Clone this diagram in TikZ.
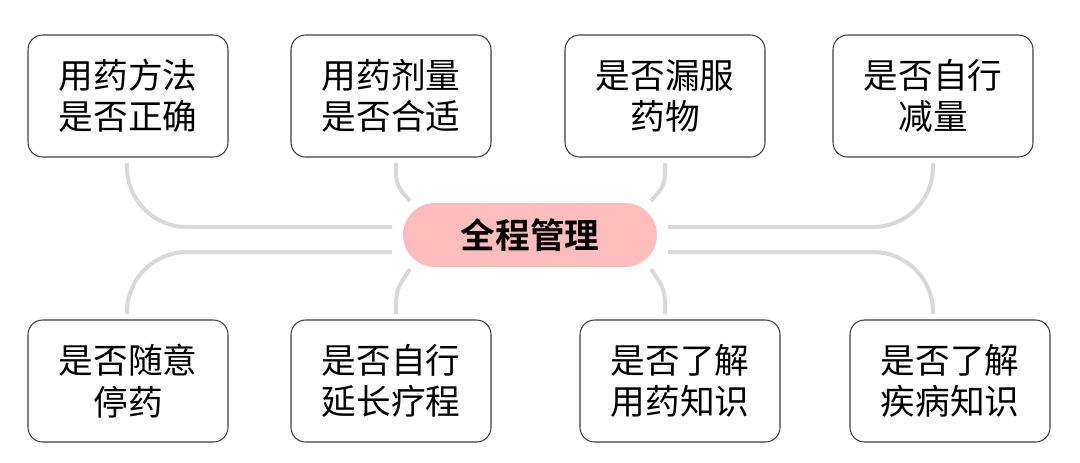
\documentclass[tikz,border=0pt]{standalone}
\usepackage{fontspec}
\newfontfamily\cjk{Noto Sans CJK SC}
\newfontfamily\cjkb{Noto Sans CJK SC Bold}
\definecolor{ln}{HTML}{D9D9D9}
\definecolor{pk}{HTML}{FDBDBD}
\begin{document}
\begin{tikzpicture}[x=0.75pt,y=-0.75pt,
  box/.style={draw=black!75,line width=0.8pt,rounded corners=11pt,minimum width=150pt,minimum height=91.5pt,align=center,font=\cjk\fontsize{26}{31}\selectfont,fill=white},
  conn/.style={draw=ln,line width=3pt}]
\useasboundingbox (0,0) rectangle (1080,462);
\node[box] (b1) at (128,96) {用药方法\\是否正确};
\node[box] (b2) at (391,96) {用药剂量\\是否合适};
\node[box] (b3) at (665,96) {是否漏服\\药物};
\node[box] (b4) at (933,96) {是否自行\\减量};
\node[box] (b5) at (128,381) {是否随意\\停药};
\node[box] (b6) at (391,381) {是否自行\\延长疗程};
\node[box] (b7) at (680,381) {是否了解\\用药知识};
\node[box] (b8) at (950,381) {是否了解\\疾病知识};
\node[fill=pk,rounded corners=24pt,minimum width=190.5pt,minimum height=48pt,font=\cjkb\fontsize{26}{31}\selectfont] (c) at (530,235) {全程管理};
\coordinate (l1) at (392,227); \coordinate (r1) at (668,227);
\coordinate (l2) at (392,252); \coordinate (r2) at (668,252);
\draw[conn,rounded corners=45pt] (127,163) -- (127,227) -- (l1);
\draw[conn,rounded corners=45pt] (933,163) -- (933,227) -- (r1);
\draw[conn,rounded corners=45pt] (127,314) -- (127,252) -- (l2);
\draw[conn,rounded corners=45pt] (933,314) -- (933,252) -- (r2);
\draw[conn] (396,163) .. controls (396,185) .. (410,201);
\draw[conn] (665,163) .. controls (665,185) .. (651,201);
\draw[conn] (396,314) .. controls (396,290) .. (410,269);
\draw[conn] (665,314) .. controls (665,290) .. (651,269);
\end{tikzpicture}
\end{document}
